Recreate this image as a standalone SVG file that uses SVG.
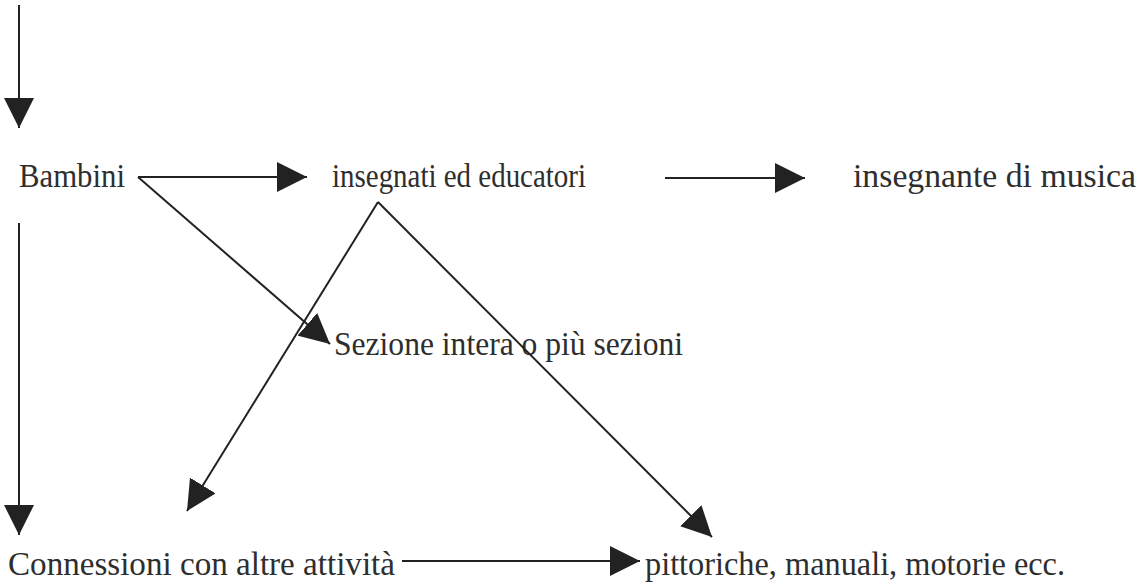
<svg xmlns="http://www.w3.org/2000/svg" width="1139" height="584" viewBox="0 0 1139 584">
<defs>
<style>
text{font-family:'Liberation Serif','DejaVu Serif','Times New Roman',serif;font-size:33px;fill:#2e2e2e}
.c line{stroke:#222;stroke-width:2;fill:none}
</style>
<marker id="ah" markerUnits="userSpaceOnUse" markerWidth="30" markerHeight="30" viewBox="0 0 28 28" refX="28" refY="14" orient="auto">
<polygon points="0,0 28,14 0,28" fill="#222"/>
</marker>
</defs>
<rect width="1139" height="584" fill="#fff"/>
<g id="n-bambini"><text x="19" y="187" textLength="106" lengthAdjust="spacingAndGlyphs">Bambini</text></g>
<g id="n-insegnati"><text x="332" y="187" textLength="254" lengthAdjust="spacingAndGlyphs">insegnati ed educatori</text></g>
<g id="n-musica"><text x="853" y="187" textLength="283" lengthAdjust="spacingAndGlyphs">insegnante di musica</text></g>
<g id="n-sezione"><text x="334" y="355" textLength="349" lengthAdjust="spacingAndGlyphs">Sezione intera o più sezioni</text></g>
<g id="n-connessioni"><text x="8" y="575" textLength="387" lengthAdjust="spacingAndGlyphs">Connessioni con altre attività</text></g>
<g id="n-pittoriche"><text x="645" y="575" textLength="420" lengthAdjust="spacingAndGlyphs">pittoriche, manuali, motorie ecc.</text></g>
<g id="connectors" class="c">
<line x1="19" y1="5" x2="19" y2="128" marker-end="url(#ah)"/>
<line x1="138" y1="177" x2="307" y2="177" marker-end="url(#ah)"/>
<line x1="138" y1="177" x2="330" y2="344" marker-end="url(#ah)"/>
<line x1="378" y1="202" x2="187" y2="511" marker-end="url(#ah)"/>
<line x1="378" y1="202" x2="712" y2="537" marker-end="url(#ah)"/>
<line x1="665" y1="178" x2="805" y2="178" marker-end="url(#ah)"/>
<line x1="19" y1="223" x2="19" y2="535" marker-end="url(#ah)"/>
<line x1="402" y1="561" x2="640" y2="561" marker-end="url(#ah)"/>
</g>
</svg>
